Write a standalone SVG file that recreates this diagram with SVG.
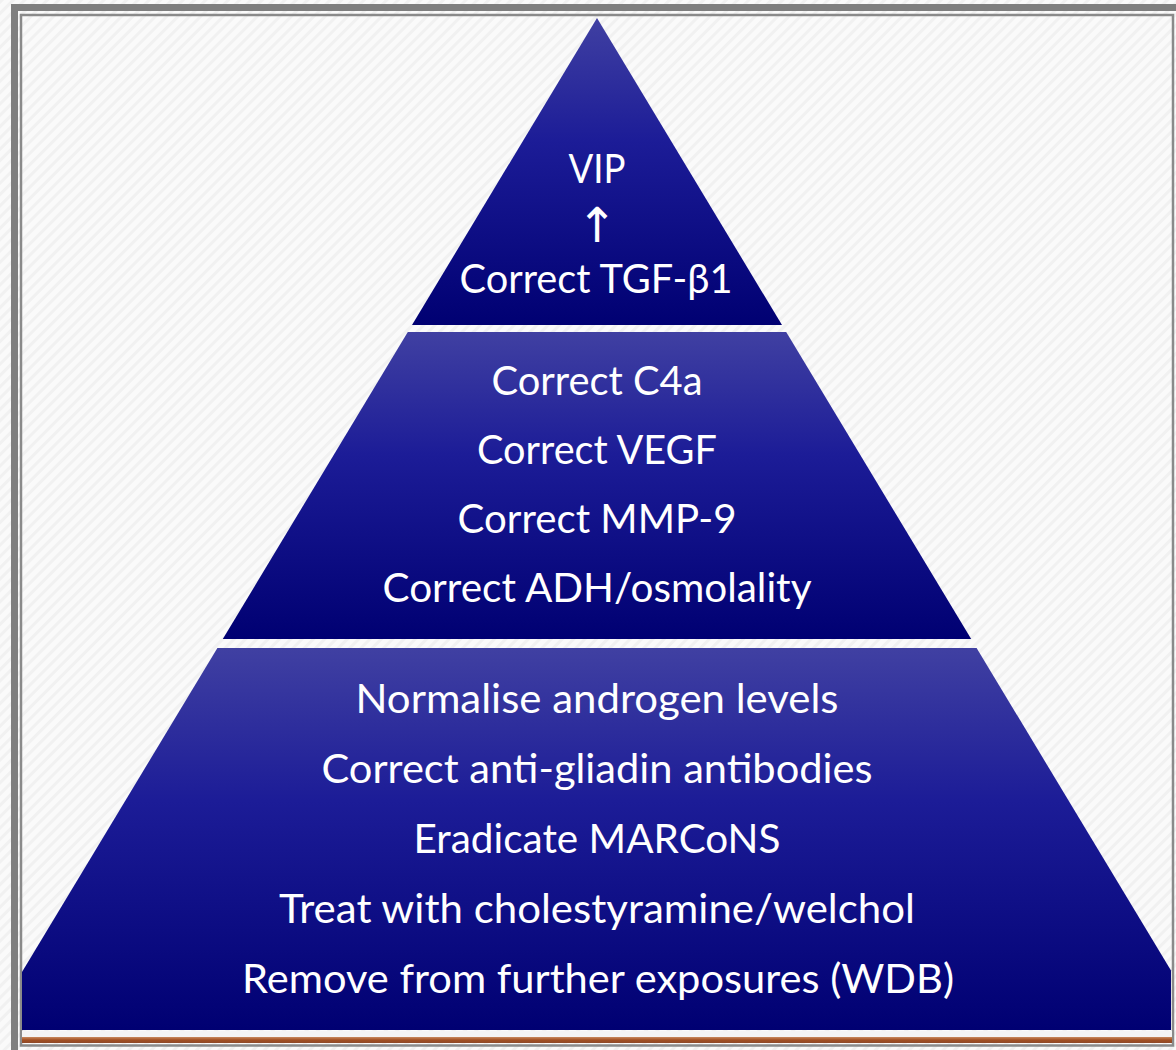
<svg xmlns="http://www.w3.org/2000/svg" width="1176" height="1050" viewBox="0 0 1176 1050">
  <defs>
    <pattern id="tex" patternUnits="userSpaceOnUse" width="8" height="8" patternTransform="rotate(45)">
      <rect width="8" height="8" fill="#fafafa"/>
      <rect width="3" height="8" fill="#f1f1f1"/>
    </pattern>
    <linearGradient id="tier" x1="0" y1="0" x2="0" y2="1">
      <stop offset="0" stop-color="#4040a2"/>
      <stop offset="0.4" stop-color="#1c1c97"/>
      <stop offset="1" stop-color="#000072"/>
    </linearGradient>
    <linearGradient id="brown" x1="0" y1="0" x2="0" y2="1">
      <stop offset="0" stop-color="#c98a5e"/>
      <stop offset="0.5" stop-color="#a24f22"/>
      <stop offset="1" stop-color="#8e4a2a"/>
    </linearGradient>
  </defs>
  <style>
    .tier { fill: url(#tier); }
    .lbl { fill: #ffffff; font-family: Lato, "Open Sans", "Liberation Sans", sans-serif; font-size: 40px; text-anchor: middle; }
    .arw { fill: #ffffff; font-family: "DejaVu Sans", sans-serif; font-size: 48px; text-anchor: middle; }
  </style>

  <rect x="0" y="0" width="1176" height="1050" fill="url(#tex)"/>

  <g id="frame">
    <rect x="14.5" y="7.5" width="1200" height="1100" fill="none" stroke="#7f7f7f" stroke-width="7"/>
    <rect x="21" y="15" width="1152" height="1030.5" fill="none" stroke="#8a8a8a" stroke-width="2.5"/>
    <rect x="22" y="1031" width="1150" height="6" fill="#f4f4f4"/>
    <rect x="22" y="1037" width="1150" height="6" fill="url(#brown)"/>
  </g>

  <g id="tier-top">
    <polygon class="tier" points="597,18 782,325 412,325"/>
    <text class="lbl" x="597" y="183" textLength="57" lengthAdjust="spacingAndGlyphs">VIP</text>
    <text class="arw" x="597" y="242">↑</text>
    <text class="lbl" x="596" y="293" textLength="273" lengthAdjust="spacingAndGlyphs">Correct TGF-β1</text>
  </g>

  <g id="tier-middle">
    <polygon class="tier" points="407.8,332 786.2,332 971.2,639 222.8,639"/>
    <text class="lbl" x="597" y="395" textLength="211" lengthAdjust="spacingAndGlyphs">Correct C4a</text>
    <text class="lbl" x="597" y="464" textLength="240" lengthAdjust="spacingAndGlyphs">Correct VEGF</text>
    <text class="lbl" x="597" y="533" textLength="279" lengthAdjust="spacingAndGlyphs">Correct MMP-9</text>
    <text class="lbl" x="597" y="602" textLength="429" lengthAdjust="spacingAndGlyphs">Correct ADH/osmolality</text>
  </g>

  <g id="tier-bottom">
    <polygon class="tier" points="217.4,648 976.6,648 1171,970.5 1171,1030 22,1030 22,972"/>
    <text class="lbl" x="597" y="713" textLength="483" lengthAdjust="spacingAndGlyphs">Normalise androgen levels</text>
    <text class="lbl" x="597" y="783" textLength="551" lengthAdjust="spacingAndGlyphs">Correct anti-gliadin antibodies</text>
    <text class="lbl" x="597" y="853" textLength="367" lengthAdjust="spacingAndGlyphs">Eradicate MARCoNS</text>
    <text class="lbl" x="597" y="923" textLength="636" lengthAdjust="spacingAndGlyphs">Treat with cholestyramine/welchol</text>
    <text class="lbl" x="598" y="993" textLength="712" lengthAdjust="spacingAndGlyphs">Remove from further exposures (WDB)</text>
  </g>
</svg>
